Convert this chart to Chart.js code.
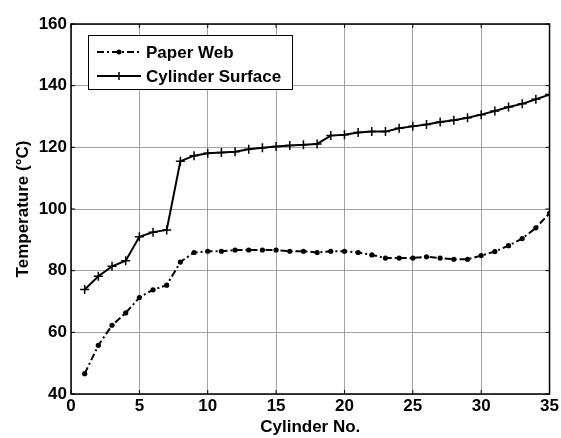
<!DOCTYPE html>
<html>
<head>
<meta charset="utf-8">
<script src="https://cdn.jsdelivr.net/npm/chart.js@4"></script>
<style>
  html, body { margin: 0; padding: 0; background: #fff; }
  #wrap { width: 561px; height: 438px; position: relative; }
</style>
</head>
<body>
<div id="wrap"><canvas id="chart"></canvas></div>
<script>
// --- Data ---
const cylinders = [1, 2, 3, 4, 5, 6, 7, 8, 9, 10, 11, 12, 13, 14, 15, 16, 17, 18,
                   19, 20, 21, 22, 23, 24, 25, 26, 27, 28, 29, 30, 31, 32, 33, 34, 35];
const paperWeb = [46.6, 55.8, 62.3, 66.3, 71.3, 73.8, 75.3, 82.8, 85.9, 86.3, 86.3, 86.7,
                  86.7, 86.7, 86.7, 86.3, 86.3, 85.9, 86.3, 86.3, 85.9, 85.1, 84.1, 84.1,
                  84.1, 84.5, 84.1, 83.7, 83.7, 84.9, 86.2, 88.1, 90.4, 93.9, 98.6];
const cylinderSurface = [73.9, 78.2, 81.4, 83.2, 91.0, 92.5, 93.2, 115.5, 117.3, 118.1,
                         118.3, 118.6, 119.4, 119.9, 120.3, 120.6, 120.8, 121.1, 123.8,
                         124.1, 124.8, 125.1, 125.1, 126.2, 126.8, 127.4, 128.2, 128.8,
                         129.6, 130.6, 131.8, 133.1, 134.1, 135.6, 137.1];
const seriesNames = ['Paper Web', 'Cylinder Surface'];
const xTicks = [0, 5, 10, 15, 20, 25, 30, 35];
const yTicks = [40, 60, 80, 100, 120, 140, 160];

const FONT = '"Liberation Sans", Arial, sans-serif';
const toPoints = (vals) => vals.map((v, i) => ({ x: cylinders[i], y: v }));

// MATLAB-style frame: full box plus inward ticks on every side
const framePlugin = {
    id: 'frame',
    afterDraw(chart) {
        const { ctx, chartArea: a, scales } = chart;
        const len = 4;
        ctx.save();
        ctx.strokeStyle = '#000';
        ctx.lineWidth = 1.5;
        ctx.strokeRect(a.left, a.top, a.right - a.left, a.bottom - a.top);
        ctx.lineWidth = 1;
        ctx.beginPath();
        xTicks.forEach(t => {
            const px = scales.x.getPixelForValue(t);
            ctx.moveTo(px, a.bottom); ctx.lineTo(px, a.bottom - len);
            ctx.moveTo(px, a.top); ctx.lineTo(px, a.top + len);
        });
        yTicks.forEach(t => {
            const py = scales.y.getPixelForValue(t);
            ctx.moveTo(a.left, py); ctx.lineTo(a.left + len, py);
            ctx.moveTo(a.right, py); ctx.lineTo(a.right - len, py);
        });
        ctx.stroke();
        ctx.restore();
    }
};

// legend box in the top-left corner of the axes
const boxLegend = {
    id: 'boxLegend',
    afterDraw(chart) {
        const { ctx } = chart;
        const x0 = 88, y0 = 35, w = 204, h = 54;
        ctx.save();
        ctx.fillStyle = '#fff';
        ctx.fillRect(x0, y0, w, h);
        ctx.strokeStyle = '#000';
        ctx.lineWidth = 1;
        ctx.strokeRect(x0 + 0.5, y0 + 0.5, w, h);
        chart.data.datasets.forEach((ds, i) => {
            const y = y0 + 17 + i * 24;
            ctx.strokeStyle = '#000';
            ctx.lineWidth = ds.borderWidth;
            ctx.setLineDash(ds.borderDash || []);
            ctx.beginPath();
            ctx.moveTo(x0 + 9, y);
            ctx.lineTo(x0 + 53, y);
            ctx.stroke();
            ctx.setLineDash([]);
            const mx = x0 + 31;
            if (ds.pointStyle === 'cross') {
                ctx.lineWidth = 1.5;
                ctx.beginPath();
                ctx.moveTo(mx, y - 4); ctx.lineTo(mx, y + 4);
                ctx.stroke();
            } else {
                ctx.fillStyle = '#000';
                ctx.beginPath();
                ctx.arc(mx, y, 2.5, 0, Math.PI * 2);
                ctx.fill();
            }
            ctx.fillStyle = '#000';
            ctx.font = 'bold 17px ' + FONT;
            ctx.textBaseline = 'middle';
            ctx.fillText(ds.label, x0 + 58, y + 1);
        });
        ctx.restore();
    }
};

new Chart(document.getElementById('chart'), {
    type: 'line',
    data: {
        datasets: [
            {
                label: seriesNames[0],
                data: toPoints(paperWeb),
                borderColor: '#000',
                backgroundColor: '#000',
                borderWidth: 2,
                borderDash: [7, 3, 2, 3],
                pointStyle: 'circle',
                pointRadius: 2.6,
                pointBorderWidth: 0,
                tension: 0,
                fill: false
            },
            {
                label: seriesNames[1],
                data: toPoints(cylinderSurface),
                borderColor: '#000',
                backgroundColor: '#000',
                borderWidth: 2,
                pointStyle: 'cross',
                pointRadius: 4.5,
                pointBorderWidth: 1.5,
                tension: 0,
                fill: false
            }
        ]
    },
    options: {
        responsive: true,
        maintainAspectRatio: false,
        animation: false,
        layout: { padding: { top: 24, right: 11, left: 0, bottom: 0 } },
        plugins: {
            legend: { display: false },
            tooltip: { enabled: false }
        },
        scales: {
            x: {
                type: 'linear',
                min: 0,
                max: 35,
                afterFit: (s) => { s.height = 44; },
                afterBuildTicks: (s) => { s.ticks = xTicks.map(v => ({ value: v })); },
                ticks: { color: '#000', font: { family: FONT, size: 17, weight: 'bold' }, padding: 2, maxRotation: 0 },
                grid: { color: '#8c8c8c', borderDash: [2, 1], drawTicks: false, lineWidth: 0.8 },
                border: { display: false },
                title: { display: true, text: 'Cylinder No.', color: '#000', font: { family: FONT, size: 17, weight: 'bold' }, padding: { top: 0, bottom: 0 } }
            },
            y: {
                min: 40,
                max: 160,
                afterFit: (s) => { s.width = 71; },
                afterBuildTicks: (s) => { s.ticks = yTicks.map(v => ({ value: v })); },
                ticks: { color: '#000', font: { family: FONT, size: 17, weight: 'bold' }, padding: 4 },
                grid: { color: '#8c8c8c', borderDash: [2, 1], drawTicks: false, lineWidth: 0.8 },
                border: { display: false },
                title: { display: true, text: 'Temperature (\u00B0C)', color: '#000', font: { family: FONT, size: 17, weight: 'bold' }, padding: { top: 13, bottom: 0 } }
            }
        }
    },
    plugins: [framePlugin, boxLegend]
});
</script>
</body>
</html>
